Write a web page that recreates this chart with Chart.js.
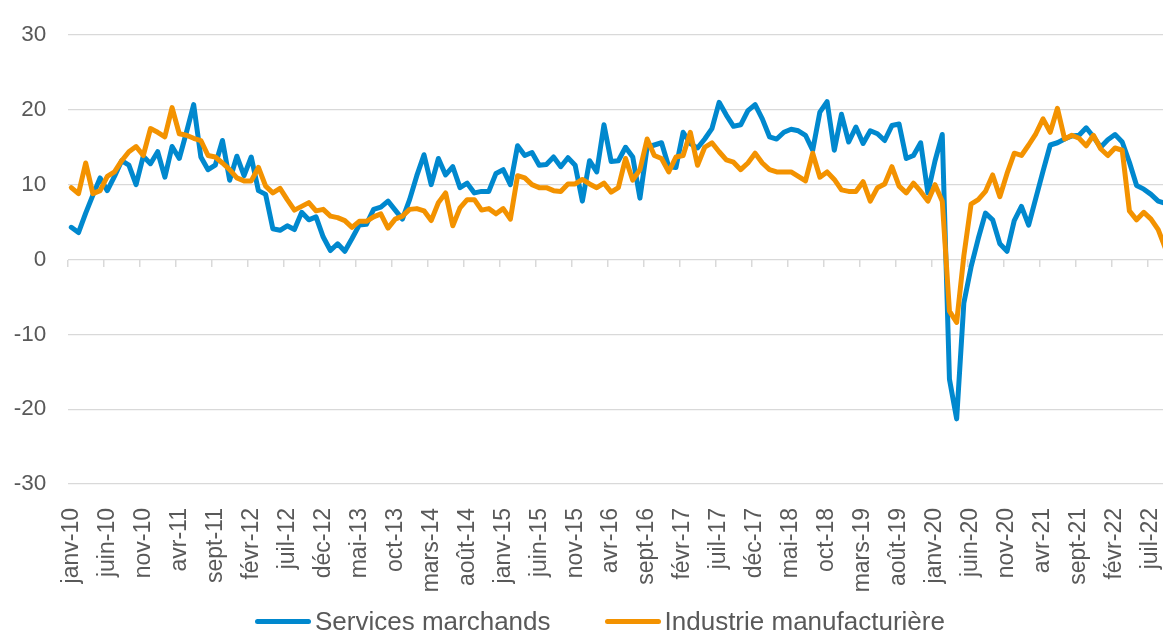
<!DOCTYPE html>
<html>
<head>
<meta charset="utf-8">
<script src="https://cdn.jsdelivr.net/npm/chart.js@4.4.1/dist/chart.umd.min.js"></script>
<style>
    html, body { margin: 0; padding: 0; background: #ffffff; overflow: hidden; }
    #wrap { position: absolute; left: 0; top: 0; width: 1210px; height: 633px; }
    #legende {
        position: absolute; left: 255px; top: 608px; height: 26px;
        display: flex; align-items: center;
        font-family: 'Liberation Sans', Arial, sans-serif; font-size: 26px; line-height: 26px;
        color: #595959; white-space: nowrap;
    }
    .item { display: flex; align-items: center; margin-right: 54px; }
    .trait { display: inline-block; width: 56px; height: 5px; border-radius: 3px; margin-right: 4px; }
</style>
</head>
<body>
<div id="wrap"><canvas id="chart" width="1210" height="633"></canvas></div>
<div id="legende"></div>
<script>
// Month labels, janv-10 to sept-22
var moisCourts = ['janv', 'févr', 'mars', 'avr', 'mai', 'juin', 'juil', 'août', 'sept', 'oct', 'nov', 'déc'];
var annees = ['10', '11', '12', '13', '14', '15', '16', '17', '18', '19', '20', '21', '22'];
var nbMois = 153;

// Series values, one row per year
var servicesMarchands = [
    4.3, 3.6, 6.2, 8.6, 10.9, 9.2, 11.1, 13.2, 12.6, 10.0, 13.8, 12.8,
    14.4, 11.0, 15.1, 13.5, 17.0, 20.7, 13.7, 12.0, 12.6, 15.9, 10.6, 13.8,
    11.2, 13.7, 9.2, 8.7, 4.1, 3.9, 4.5, 4.0, 6.3, 5.3, 5.7, 3.0,
    1.2, 2.1, 1.1, 2.8, 4.6, 4.7, 6.7, 7.0, 7.8, 6.6, 5.4, 8.0,
    11.2, 14.0, 10.0, 13.5, 11.3, 12.4, 9.6, 10.2, 8.9, 9.1, 9.1, 11.5,
    12.0, 10.0, 15.2, 13.9, 14.3, 12.6, 12.7, 13.7, 12.4, 13.6, 12.6, 7.8,
    13.2, 11.7, 18.0, 13.1, 13.2, 15.0, 13.7, 8.2, 15.0, 15.3, 15.6, 12.4,
    12.3, 17.0, 15.5, 14.9, 16.1, 17.5, 21.0, 19.3, 17.8, 18.0, 19.9, 20.7,
    18.8, 16.4, 16.1, 17.0, 17.4, 17.2, 16.6, 14.6, 19.7, 21.1, 14.6, 19.4,
    15.7, 17.7, 15.5, 17.2, 16.8, 15.9, 17.9, 18.1, 13.5, 13.9, 15.6, 8.9,
    13.2, 16.7, -16.0, -21.3, -5.8, -1.0, 2.8, 6.2, 5.3, 2.1, 1.1, 5.2,
    7.1, 4.6, 8.2, 11.8, 15.3, 15.6, 16.1, 16.5, 16.6, 17.6, 16.4, 15.0,
    16.0, 16.7, 15.7, 13.0, 9.9, 9.4, 8.7, 7.8, 7.5
];

var industrieManufacturiere = [
    9.6, 8.8, 12.9, 8.8, 9.2, 11.1, 11.7, 13.2, 14.4, 15.1, 13.9, 17.5,
    17.0, 16.4, 20.3, 16.8, 16.6, 16.2, 15.9, 13.9, 13.7, 12.9, 12.0, 10.9,
    10.5, 10.5, 12.3, 9.8, 8.9, 9.5, 8.0, 6.6, 7.1, 7.6, 6.5, 6.7,
    5.8, 5.6, 5.2, 4.3, 5.1, 5.1, 5.7, 6.1, 4.2, 5.4, 5.8, 6.7,
    6.8, 6.5, 5.2, 7.6, 8.9, 4.5, 6.9, 8.0, 8.0, 6.6, 6.8, 6.1,
    6.8, 5.4, 11.2, 10.9, 10.0, 9.6, 9.6, 9.2, 9.1, 10.1, 10.1, 10.7,
    10.1, 9.6, 10.2, 9.0, 9.6, 13.5, 10.6, 12.0, 16.1, 13.9, 13.5, 11.7,
    13.7, 13.9, 17.0, 12.6, 15.0, 15.6, 14.4, 13.3, 13.0, 12.0, 12.9, 14.2,
    12.9, 12.0, 11.7, 11.7, 11.7, 11.1, 10.5, 14.2, 11.0, 11.7, 10.7, 9.3,
    9.1, 9.1, 10.4, 7.8, 9.6, 10.1, 12.4, 9.8, 8.9, 10.2, 9.1, 7.8,
    10.0, 7.8, -6.9, -8.4, 0.5, 7.4, 8.0, 9.1, 11.3, 8.4, 11.5, 14.2,
    13.9, 15.3, 16.8, 18.8, 17.0, 20.2, 16.1, 16.6, 16.2, 15.2, 16.6, 14.8,
    13.9, 14.9, 14.6, 6.5, 5.3, 6.3, 5.4, 4.0, 1.5
];

var mois = [];
annees.forEach(function (a) {
    moisCourts.forEach(function (m) { mois.push(m + '-' + a); });
});
mois = mois.slice(0, nbMois);

var bleu = '#0088ce';
var orange = '#f39200';
var gris = '#595959';
var grille = '#d9d9d9';

Chart.defaults.font.family = "'Liberation Sans', Arial, sans-serif";
Chart.defaults.color = gris;

var graphique = new Chart(document.getElementById('chart'), {
    type: 'line',
    data: {
        labels: mois,
        datasets: [
            {
                label: 'Services marchands',
                data: servicesMarchands,
                borderColor: bleu,
                backgroundColor: bleu,
                borderWidth: 5,
                borderJoinStyle: 'round',
                borderCapStyle: 'round',
                pointRadius: 0,
                tension: 0,
                order: 1
            },
            {
                label: 'Industrie manufacturière',
                data: industrieManufacturiere,
                borderColor: orange,
                backgroundColor: orange,
                borderWidth: 5,
                borderJoinStyle: 'round',
                borderCapStyle: 'round',
                pointRadius: 0,
                tension: 0,
                order: 0
            }
        ]
    },
    options: {
        responsive: false,
        animation: false,
        layout: {
            padding: { left: 0, top: 29, right: 41, bottom: 0 }
        },
        plugins: {
            legend: { display: false },
            tooltip: { enabled: false }
        },
        scales: {
            x: {
                type: 'category',
                offset: true,
                grid: { display: false },
                border: { display: false },
                ticks: {
                    autoSkip: false,
                    minRotation: 90,
                    maxRotation: 90,
                    padding: 16,
                    color: gris,
                    font: { size: 23 },
                    callback: function (value, index) {
                        return index % 5 === 0 ? mois[index] : '';
                    }
                },
                afterFit: function (scale) { scale.height = 149; }
            },
            // tick marks sitting on the zero line
            x2: {
                type: 'category',
                labels: mois,
                offset: true,
                position: { y: 0 },
                grid: {
                    offset: true,
                    drawOnChartArea: false,
                    tickLength: 7,
                    lineWidth: 1.5,
                    color: function (ctx) {
                        return ctx.index % 5 === 0 ? grille : 'rgba(0,0,0,0)';
                    }
                },
                border: { display: false },
                ticks: { display: false, autoSkip: false }
            },
            y: {
                min: -30,
                max: 30,
                ticks: {
                    stepSize: 10,
                    padding: 21.5,
                    color: gris,
                    font: { size: 22.5 }
                },
                grid: { color: grille, lineWidth: 1.2, drawTicks: false },
                border: { display: false },
                afterFit: function (scale) { scale.width = 67.7; }
            }
        }
    }
});

// Legend in HTML, built from the chart's datasets
var legende = document.getElementById('legende');
graphique.data.datasets.forEach(function (ds) {
    var item = document.createElement('span');
    item.className = 'item';
    var trait = document.createElement('span');
    trait.className = 'trait';
    trait.style.background = ds.borderColor;
    item.appendChild(trait);
    item.appendChild(document.createTextNode(ds.label));
    legende.appendChild(item);
});
</script>
</body>
</html>
